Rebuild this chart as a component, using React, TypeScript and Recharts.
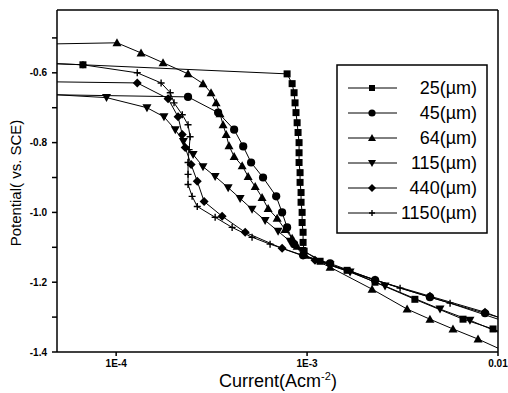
import React from "react";
import { LineChart, Line, XAxis, YAxis } from "recharts";

type Pt = [number, number];

// [current (A/cm2), potential (V vs. SCE)]
const s25: Pt[] = [
  [4.9e-5, -0.574], [6.7e-5, -0.577], [7.86e-4, -0.603], [8.35e-4, -0.631], [8.55e-4, -0.657],
  [8.65e-4, -0.686], [8.75e-4, -0.714], [8.87e-4, -0.743], [8.97e-4, -0.771], [9.08e-4, -0.8],
  [9.08e-4, -0.829], [9.08e-4, -0.857], [9.19e-4, -0.886], [9.19e-4, -0.914], [9.3e-4, -0.943],
  [9.3e-4, -0.971], [9.42e-4, -1.0], [9.42e-4, -1.029], [9.53e-4, -1.057], [9.53e-4, -1.086],
  [9.65e-4, -1.111], [1.17e-3, -1.14], [1.62e-3, -1.166], [2.27e-3, -1.2], [3.67e-3, -1.249],
  [6.56e-3, -1.306], [9.42e-3, -1.334], [1e-2, -1.34],
];
const s45: Pt[] = [
  [4.9e-5, -0.663], [2.38e-4, -0.669], [3.42e-4, -0.714], [4.15e-4, -0.763], [4.63e-4, -0.811],
  [5.09e-4, -0.857], [5.88e-4, -0.9], [6.89e-4, -0.954], [7.4e-4, -1.0], [7.86e-4, -1.043],
  [8.55e-4, -1.091], [9.53e-4, -1.123], [1.32e-3, -1.146], [2.27e-3, -1.194], [4.4e-3, -1.243],
  [8.55e-3, -1.289], [1e-2, -1.3],
];
const s64: Pt[] = [
  [4.9e-5, -0.517], [1.01e-4, -0.514], [1.35e-4, -0.543], [1.76e-4, -0.571], [2.38e-4, -0.603],
  [2.85e-4, -0.631], [3.14e-4, -0.657], [3.34e-4, -0.686], [3.5e-4, -0.717], [3.63e-4, -0.749],
  [3.77e-4, -0.777], [3.9e-4, -0.809], [4.15e-4, -0.84], [4.57e-4, -0.866], [4.91e-4, -0.897],
  [5.35e-4, -0.926], [5.81e-4, -0.957], [6.25e-4, -0.989], [6.97e-4, -1.017], [7.67e-4, -1.049],
  [8.35e-4, -1.074], [8.87e-4, -1.097], [9.77e-4, -1.123], [1.32e-3, -1.157], [2.19e-3, -1.22],
  [3.34e-3, -1.277], [4.4e-3, -1.306], [5.81e-3, -1.334], [7.86e-3, -1.363], [1e-2, -1.389],
];
const s115: Pt[] = [
  [4.9e-5, -0.663], [8.9e-5, -0.671], [1.45e-4, -0.7], [1.78e-4, -0.726], [2.04e-4, -0.763],
  [2.25e-4, -0.797], [2.53e-4, -0.834], [2.85e-4, -0.869], [3.3e-4, -0.897], [3.86e-4, -0.929],
  [4.46e-4, -0.96], [5.15e-4, -0.991], [6.03e-4, -1.023], [7.05e-4, -1.054], [8.15e-4, -1.083],
  [9.42e-4, -1.109], [1.32e-3, -1.151], [1.68e-3, -1.171], [2.56e-3, -1.211], [4.97e-3, -1.277],
  [7.13e-3, -1.309], [1e-2, -1.343],
];
const s440: Pt[] = [
  [4.9e-5, -0.626], [1.29e-4, -0.629], [1.87e-4, -0.674], [2.11e-4, -0.726], [2.22e-4, -0.777],
  [2.3e-4, -0.814], [2.47e-4, -0.863], [2.66e-4, -0.911], [2.89e-4, -0.969], [3.59e-4, -1.011],
  [4.74e-4, -1.057], [7.4e-4, -1.103], [1.1e-3, -1.137], [2.27e-3, -1.194], [4.4e-3, -1.24],
  [8.55e-3, -1.286], [1e-2, -1.3],
];
const s1150: Pt[] = [
  [4.9e-5, -0.574], [6.7e-5, -0.577], [1.29e-4, -0.6], [1.72e-4, -0.629], [1.92e-4, -0.657],
  [2.01e-4, -0.686], [2.22e-4, -0.72], [2.38e-4, -0.749], [2.44e-4, -0.783], [2.41e-4, -0.82],
  [2.38e-4, -0.857], [2.38e-4, -0.891], [2.38e-4, -0.92], [2.5e-4, -0.954], [2.66e-4, -0.983],
  [3.3e-4, -1.014], [4.05e-4, -1.043], [5.15e-4, -1.071], [6.4e-4, -1.091], [1.68e-3, -1.169],
  [3.07e-3, -1.217], [5.61e-3, -1.26], [1e-2, -1.306],
];

const names = ["25(µm)", "45(µm)", "64(µm)", "115(µm)", "440(µm)", "1150(µm)"];
const shapes = ["square", "circle", "up", "down", "diamond", "plus"];
const allSeries = [s25, s45, s64, s115, s440, s1150];

const xMajor = [1e-4, 1e-3, 1e-2];
const xMinor = [
  5e-5, 6e-5, 7e-5, 8e-5, 9e-5, 1e-4, 2e-4, 3e-4, 4e-4, 5e-4, 6e-4, 7e-4, 8e-4, 9e-4,
  1e-3, 2e-3, 3e-3, 4e-3, 5e-3, 6e-3, 7e-3, 8e-3, 9e-3, 1e-2,
];
const yTicks = [-1.4, -1.3, -1.2, -1.1, -1.0, -0.9, -0.8, -0.7, -0.6, -0.5];
const yLabelled = [-1.4, -1.2, -1.0, -0.8, -0.6];

const X_DOMAIN: [number, number] = [4.9e-5, 1e-2];
const Y_DOMAIN: [number, number] = [-1.4, -0.42];
const FONT = "'Liberation Sans', Arial, sans-serif";

const fmtX = (v: number) => (v >= 0.01 ? "0.01" : v >= 1e-3 ? "1E-3" : "1E-4");
const fmtY = (v: number) =>
  yLabelled.some((t) => Math.abs(t - v) < 1e-6) ? v.toFixed(1) : "";

function Marker({ cx, cy, shape, s }: { cx: number; cy: number; shape: string; s: number }) {
  switch (shape) {
    case "square":
      return <rect x={cx - s} y={cy - s} width={2 * s} height={2 * s} fill="#000" />;
    case "circle":
      return <circle cx={cx} cy={cy} r={s + 0.6} fill="#000" />;
    case "up":
      return (
        <polygon
          points={`${cx},${cy - s - 1} ${cx - s - 1},${cy + s} ${cx + s + 1},${cy + s}`}
          fill="#000"
        />
      );
    case "down":
      return (
        <polygon
          points={`${cx},${cy + s + 1} ${cx - s - 1},${cy - s} ${cx + s + 1},${cy - s}`}
          fill="#000"
        />
      );
    case "diamond":
      return (
        <polygon
          points={`${cx},${cy - s - 1} ${cx + s + 1},${cy} ${cx},${cy + s + 1} ${cx - s - 1},${cy}`}
          fill="#000"
        />
      );
    default:
      return (
        <path
          d={`M${cx - s} ${cy}H${cx + s}M${cx} ${cy - s}V${cy + s}`}
          stroke="#000"
          strokeWidth={1.4}
        />
      );
  }
}

function LegendBox() {
  return (
    <g>
      <rect x={337} y={65} width={150} height={168} fill="#fff" stroke="#000" strokeWidth={1.5} />
      {names.map((n, i) => {
        const y = 88 + i * 25;
        return (
          <g key={n}>
            <line x1={348} x2={397} y1={y} y2={y} stroke="#000" strokeWidth={1} />
            <Marker cx={372} cy={y} shape={shapes[i]} s={3} />
            <text
              x={477}
              y={y}
              textAnchor="end"
              dominantBaseline="central"
              fontSize={18}
              fontFamily={FONT}
              fill="#000"
            >
              {n}
            </text>
          </g>
        );
      })}
    </g>
  );
}

export default function App() {
  const tickStyle = { fontSize: 10, fontWeight: 700, fill: "#000", fontFamily: FONT };
  return (
    <div style={{ position: "absolute", left: 0, top: 0, width: 508, height: 393, background: "#fff" }}>
      <LineChart width={508} height={393} margin={{ top: 10, right: 10, bottom: 16, left: 12 }}>
        <XAxis
          xAxisId="main"
          type="number"
          dataKey="x"
          scale="log"
          domain={X_DOMAIN}
          allowDataOverflow
          ticks={xMajor}
          tickFormatter={fmtX}
          height={25}
          tickSize={4}
          tickMargin={4}
          tick={tickStyle}
          stroke="#000"
          strokeWidth={1.5}
        />
        <XAxis
          xAxisId="inner"
          type="number"
          scale="log"
          domain={X_DOMAIN}
          allowDataOverflow
          mirror
          ticks={xMinor}
          tick={false}
          height={1}
          tickSize={3}
          axisLine={false}
          stroke="#000"
        />
        <XAxis
          xAxisId="top"
          orientation="top"
          type="number"
          scale="log"
          domain={X_DOMAIN}
          allowDataOverflow
          mirror
          ticks={xMinor}
          tick={false}
          height={1}
          tickSize={3}
          stroke="#000"
          strokeWidth={1.5}
        />
        <YAxis
          yAxisId="left"
          type="number"
          domain={Y_DOMAIN}
          allowDataOverflow
          ticks={yTicks}
          tickFormatter={fmtY}
          width={45}
          tickSize={5}
          tickMargin={5}
          tick={tickStyle}
          stroke="#000"
          strokeWidth={1.5}
        />
        <YAxis
          yAxisId="right"
          orientation="right"
          type="number"
          domain={Y_DOMAIN}
          allowDataOverflow
          mirror
          ticks={yTicks}
          tick={false}
          width={1}
          tickSize={3}
          stroke="#000"
          strokeWidth={1.5}
        />
        {allSeries.map((pts, i) => (
          <Line
            key={names[i]}
            xAxisId="main"
            yAxisId="left"
            data={pts.map(([x, y]) => ({ x, y, edge: x <= X_DOMAIN[0] || x >= X_DOMAIN[1] }))}
            dataKey="y"
            type="linear"
            stroke="#000"
            strokeWidth={1}
            isAnimationActive={false}
            activeDot={false}
            dot={(p: any) =>
              p.payload.edge ? (
                <g key={p.index} />
              ) : (
                <Marker key={p.index} cx={p.cx} cy={p.cy} shape={shapes[i]} s={3.5} />
              )
            }
          />
        ))}
        <LegendBox />
        <text
          transform="rotate(-90)"
          x={-183}
          y={15}
          textAnchor="middle"
          dominantBaseline="central"
          fontSize={15}
          fontFamily={FONT}
          fill="#000"
        >
          Potential( vs. SCE)
        </text>
        <text x={278} y={387} textAnchor="middle" fontSize={18} fontFamily={FONT} fill="#000">
          Current(Acm
          <tspan dy={-7} fontSize={11}>
            -2
          </tspan>
          <tspan dy={7}>)</tspan>
        </text>
      </LineChart>
    </div>
  );
}
